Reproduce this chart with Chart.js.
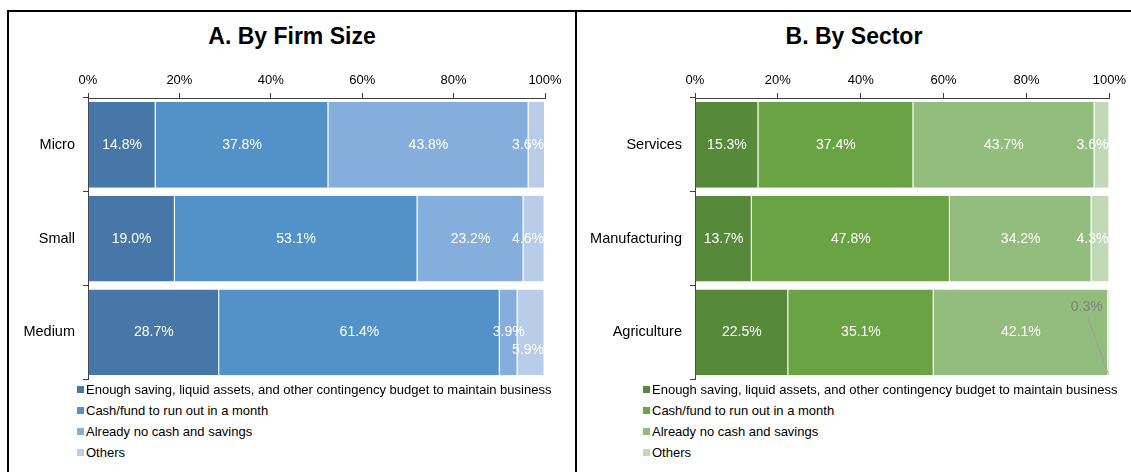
<!DOCTYPE html>
<html>
<head>
<meta charset="utf-8">
<script src="https://cdn.jsdelivr.net/npm/chart.js@4.4.1/dist/chart.umd.min.js"></script>
<style>
  body { margin: 0; background: #fff; font-family: "Liberation Sans", Arial, sans-serif; }
  #wrap { position: relative; width: 1131px; height: 472px; overflow: hidden; }
  .line { position: absolute; background: #000; }
  .title { position: absolute; top: 22px; height: 28px; line-height: 28px; text-align: center; font-weight: bold; font-size: 23px; color: #000; }
  .box { position: absolute; }
  .legend { position: absolute; font-size: 13px; color: #000; }
  .legend div { position: absolute; white-space: nowrap; height: 16px; line-height: 16px; }
  .legend span { display: inline-block; width: 7px; height: 7px; margin-right: 2px; vertical-align: 1px; }
</style>
</head>
<body>
<div id="wrap">
  <div class="line" style="left:7px;top:10px;width:1124px;height:2px"></div>
  <div class="line" style="left:7px;top:10px;width:2px;height:462px"></div>
  <div class="line" style="left:575px;top:10px;width:2px;height:462px"></div>

  <div class="title" style="left:9px;width:566px">A. By Firm Size</div>
  <div class="title" style="left:577px;width:554px">B. By Sector</div>

  <div class="box" style="left:10px;top:61px;width:564px;height:335px"><canvas id="sizeChart"></canvas></div>
  <div class="box" style="left:578px;top:61px;width:553px;height:335px"><canvas id="sectorChart"></canvas></div>

  <div class="legend" id="sizeLegend" style="left:77px;top:382px"></div>
  <div class="legend" id="sectorLegend" style="left:643px;top:382px"></div>
</div>

<script>
// categorias e séries
const sizeCats = ['Micro', 'Small', 'Medium'];
const sectorCats = ['Services', 'Manufacturing', 'Agriculture'];
const seriesNames = [
    'Enough saving, liquid assets, and other contingency budget to maintain business',
    'Cash/fund to run out in a month',
    'Already no cash and savings',
    'Others'
];

// A. By Firm Size
const sizeEnough = [14.8, 19.0, 28.7];
const sizeRunOut = [37.8, 53.1, 61.4];
const sizeNoCash = [43.8, 23.2, 3.9];
const sizeOthers = [3.6, 4.6, 5.9];

// B. By Sector
const sectorEnough = [15.3, 13.7, 22.5];
const sectorRunOut = [37.4, 47.8, 35.1];
const sectorNoCash = [43.7, 34.2, 42.1];
const sectorOthers = [3.6, 4.3, 0.3];

const xTicks = [0, 20, 40, 60, 80, 100];

const blues = ['#4677A8', '#5392C8', '#86AEDC', '#B9CDE8'];
const greens = ['#568939', '#6AA343', '#93BD7C', '#C1D9B5'];

const FONT = '"Liberation Sans", Arial, sans-serif';

// rótulos de dados dentro das barras
const barLabels = {
    id: 'barLabels',
    afterDatasetsDraw(chart, args, opts) {
        const ctx = chart.ctx;
        const area = chart.chartArea;
        ctx.save();
        ctx.font = '14px ' + FONT;
        ctx.textAlign = 'center';
        ctx.textBaseline = 'middle';
        chart.data.datasets.forEach((ds, i) => {
            const meta = chart.getDatasetMeta(i);
            meta.data.forEach((el, j) => {
                const txt = ds.data[j].toFixed(1) + '%';
                const w = ctx.measureText(txt).width;
                let x = (el.x + el.base) / 2;
                let y = el.y;
                const key = i + '-' + j;
                const nudge = (opts.nudge || {})[key];
                const callout = (opts.callout || {})[key];
                if (callout) {
                    const lx = x + callout.dx, ly = y + callout.dy;
                    ctx.strokeStyle = '#a0a0a0';
                    ctx.lineWidth = 1;
                    ctx.beginPath();
                    ctx.moveTo(lx + 1, ly + 10);
                    ctx.lineTo(el.x - 1, y + el.height / 2 - 1);
                    ctx.stroke();
                    ctx.fillStyle = '#808080';
                    ctx.fillText(txt, lx, ly);
                    return;
                }
                if (x + w / 2 > area.right - 1) x = area.right - 1 - w / 2;
                if (nudge) { x += nudge.dx || 0; y += nudge.dy || 0; }
                ctx.fillStyle = '#ffffff';
                ctx.fillText(txt, x, y);
            });
        });
        ctx.restore();
    }
};

function buildLegend(id, colors) {
    const box = document.getElementById(id);
    seriesNames.forEach((name, i) => {
        const row = document.createElement('div');
        row.style.top = (i * 21) + 'px';
        row.innerHTML = '<span style="background:' + colors[i] + '"></span>' + name;
        box.appendChild(row);
    });
}

function makeChart(canvasId, cats, values, colors, yWidth, padRight, labelOpts) {
    const ctx = document.getElementById(canvasId).getContext('2d');
    return new Chart(ctx, {
        type: 'bar',
        data: {
            labels: cats,
            datasets: values.map((v, i) => ({
                label: seriesNames[i],
                data: v,
                backgroundColor: colors[i],
                borderColor: 'rgba(255,255,255,0.3)',
                borderWidth: { left: 0, top: 0, bottom: 0, right: 1 },
                borderSkipped: false,
                barPercentage: 0.914,
                categoryPercentage: 1
            }))
        },
        options: {
            indexAxis: 'y',
            responsive: true,
            maintainAspectRatio: false,
            animation: false,
            layout: { padding: { top: 0, left: 0, right: padRight, bottom: 4 } },
            scales: {
                x: {
                    position: 'top',
                    stacked: true,
                    min: 0,
                    max: 100,
                    afterFit: s => { s.height = 37; },
                    afterBuildTicks: s => { s.ticks = xTicks.map(v => ({ value: v })); },
                    ticks: { callback: v => v + '%', color: '#000', font: { family: FONT, size: 13 }, padding: 5, maxRotation: 0 },
                    grid: { drawOnChartArea: false, drawTicks: true, tickLength: 5, tickColor: '#404040' },
                    border: { color: '#404040', width: 1 }
                },
                y: {
                    stacked: true,
                    afterFit: s => { s.width = yWidth; },
                    ticks: { color: '#000', font: { family: FONT, size: 14.5 }, padding: 8 },
                    grid: { drawOnChartArea: false, drawTicks: true, tickLength: 5, tickColor: '#404040', offset: true },
                    border: { color: '#404040', width: 1 }
                }
            },
            plugins: {
                legend: { display: false },
                tooltip: { enabled: false },
                barLabels: labelOpts
            }
        },
        plugins: [barLabels]
    });
}

makeChart('sizeChart', sizeCats, [sizeEnough, sizeRunOut, sizeNoCash, sizeOthers], blues, 78, 29,
    { nudge: { '3-2': { dy: 18 } } });
makeChart('sectorChart', sectorCats, [sectorEnough, sectorRunOut, sectorNoCash, sectorOthers], greens, 117, 20,
    { callout: { '3-2': { dx: -22, dy: -25 } } });

buildLegend('sizeLegend', blues);
buildLegend('sectorLegend', greens);
</script>
</body>
</html>
